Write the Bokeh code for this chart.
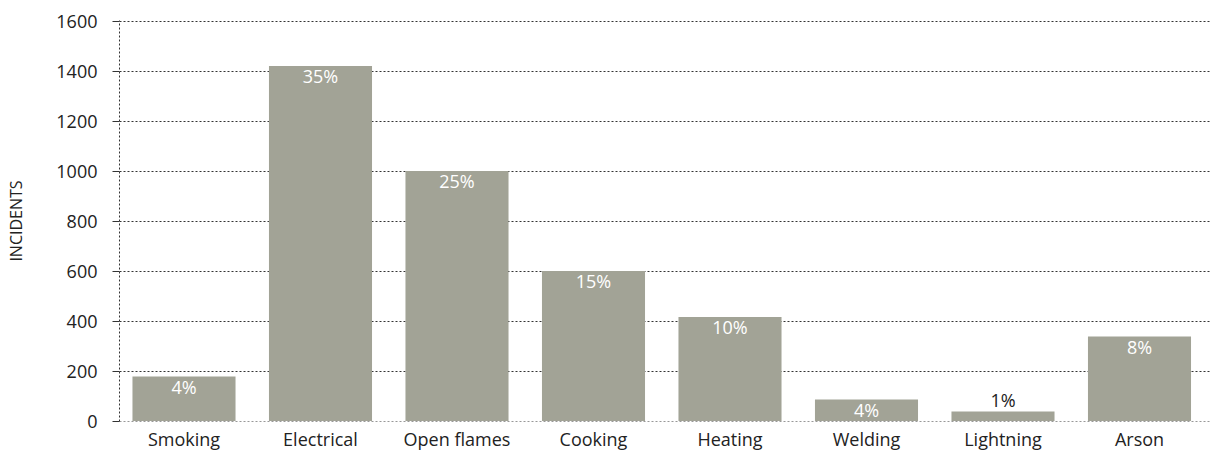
from bokeh.plotting import figure
from bokeh.models import ColumnDataSource, Range1d, FixedTicker
from bokeh.core.properties import value
from bokeh.embed import file_html
from bokeh.resources import INLINE

categories = ["Smoking", "Electrical", "Open flames", "Cooking", "Heating", "Welding", "Lightning", "Arson"]
incidents = [178, 1420, 1000, 600, 416, 86, 38, 338]
percent_labels = ["4%", "35%", "25%", "15%", "10%", "4%", "1%", "8%"]
y_ticks = [0, 200, 400, 600, 800, 1000, 1200, 1400, 1600]

FONT = "Open Sans"
BAR = "#A2A396"

# category slots on a numeric axis (slot centres at i + 0.5)
xpos = [i + 0.5 for i in range(len(categories))]

inside = [v >= 60 for v in incidents]
src_in = ColumnDataSource(dict(
    x=[c for c, f in zip(xpos, inside) if f],
    y=[v for v, f in zip(incidents, inside) if f],
    t=[t for t, f in zip(percent_labels, inside) if f],
))
src_out = ColumnDataSource(dict(
    x=[c for c, f in zip(xpos, inside) if not f],
    y=[v for v, f in zip(incidents, inside) if not f],
    t=[t for t, f in zip(percent_labels, inside) if not f],
))

p = figure(x_range=Range1d(0.0275, len(categories) + 0.0275),
           y_range=Range1d(-2, 1602),
           frame_width=1092, frame_height=401, output_backend="svg", toolbar_location=None,
           min_border_left=119, min_border_right=1, min_border_top=20, min_border_bottom=30)
p.outline_line_color = None

p.vbar(x=xpos, top=incidents, width=0.755, color=BAR, line_color=None)

p.text(x="x", y="y", text="t", source=src_in, text_color="white",
       text_font=value(FONT), text_font_size="18px", text_align="center",
       text_baseline="top", y_offset=-2)
p.text(x="x", y="y", text="t", source=src_out, text_color="#222222",
       text_font=value(FONT), text_font_size="18px", text_align="center",
       text_baseline="bottom", y_offset=0)

p.ygrid.grid_line_color = "#333333"
p.ygrid.grid_line_dash = "2 2"
p.ygrid.grid_line_width = 1
p.xgrid.grid_line_color = None

p.yaxis.ticker = y_ticks
p.yaxis.axis_line_dash = "2 2"
p.yaxis.axis_line_color = "#333333"
p.yaxis.major_tick_line_color = "#333333"
p.yaxis.major_tick_out = 7
p.yaxis.major_tick_in = 0
p.yaxis.minor_tick_line_color = None
p.yaxis.major_label_text_font = FONT
p.yaxis.major_label_text_font_size = "18px"
p.yaxis.major_label_text_color = "#222222"
p.yaxis.major_label_standoff = 15
p.yaxis.axis_label = "INCIDENTS"
p.yaxis.axis_label_text_font = FONT
p.yaxis.axis_label_text_font_size = "16px"
p.yaxis.axis_label_text_font_style = "normal"
p.yaxis.axis_label_text_color = "#222222"
p.yaxis.axis_label_standoff = 26

p.xaxis.ticker = FixedTicker(ticks=xpos)
p.xaxis.major_label_overrides = {x: c for x, c in zip(xpos, categories)}
p.xaxis.axis_line_color = None
p.xaxis.major_tick_line_color = None
p.xaxis.major_tick_out = 0
p.xaxis.major_tick_in = 0
p.xaxis.minor_tick_line_color = None
p.xaxis.major_label_text_font = FONT
p.xaxis.major_label_text_font_size = "18px"
p.xaxis.major_label_text_color = "#222222"
p.xaxis.major_label_standoff = 5

open("out.html", "w").write(file_html(p, INLINE))
